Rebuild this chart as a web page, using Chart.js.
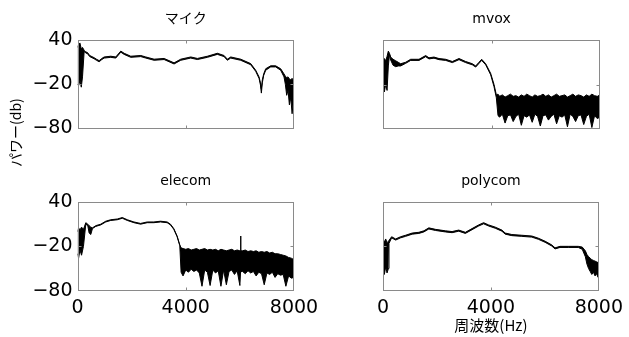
<!DOCTYPE html>
<html>
<head>
<meta charset="utf-8">
<script src="https://cdn.jsdelivr.net/npm/chart.js@4.4.1/dist/chart.umd.min.js"></script>
<style>
  body { margin: 0; background: #fff; }
  #wrap { position: relative; width: 629px; height: 337px; overflow: hidden; }
  canvas { position: absolute; }
  #ylabel {
    position: absolute; left: 5px; top: 167px; line-height: 20px;
    transform-origin: 0 0; transform: rotate(-90deg);
    font-family: "Noto Sans CJK JP"; font-size: 14px; color: #000; white-space: nowrap;
  }
</style>
</head>
<body>
<div id="wrap">
  <canvas id="mic" width="330" height="160" style="left:0;top:0"></canvas>
  <canvas id="mvox" width="299" height="160" style="left:330px;top:0"></canvas>
  <canvas id="elecom" width="330" height="177" style="left:0;top:160px"></canvas>
  <canvas id="polycom" width="299" height="177" style="left:330px;top:160px"></canvas>
  <div id="ylabel">パワー(db)</div>
</div>
<script>
const xTicks = [0, 4000, 8000];
const yTicks = [40, -20, -80];

// マイク  (hi / lo = upper and lower edge of the trace, dB)
const micHz = [0, 40, 90, 140, 185, 246, 300, 369, 450, 615, 700, 800, 900, 985, 1231, 1415, 1600, 1723, 1969, 2338, 2523, 2831, 3200, 3569, 3815, 4185, 4431, 4800, 5169, 5415, 5538, 5662, 6031, 6400, 6585, 6708, 6760, 6794, 6830, 6880, 6954, 7138, 7323, 7508, 7631, 7680, 7730, 7780, 7830, 7880, 7930, 7970, 8000];
const micHi = [30, 34, 36, 28, 30, 26, 24, 23, 19, 16, 14, 12, 15, 17, 18, 17, 25, 22, 18, 19, 17, 14, 15, 9, 14, 17, 15, 18, 22, 19, 14, 17, 14, 8, -1, -10, -18, -26, -14, -6, 1, 5, 5, 1, -6, -9, -11, -10, -13, -14, -12, -15, -18];
const micLo = [-20, -22, -15, -24, -10, 24.5, 22.5, 21.5, 17.5, 14.5, 12.5, 10.5, 13.5, 15.5, 16.5, 15.5, 23.5, 20.5, 16.5, 17.5, 15.5, 12.5, 13.5, 7.5, 12.5, 15.5, 13.5, 16.5, 20.5, 17.5, 12.5, 15.5, 12.5, 6.5, -2.5, -12, -21, -32, -18, -8, -1, 3.5, 3.5, -1, -10, -20, -35, -28, -48, -38, -60, -45, -42];

// mvox
const mvoxHz = [0, 50, 100, 150, 197, 240, 283, 370, 467, 560, 651, 836, 1020, 1327, 1573, 1696, 1880, 2065, 2311, 2556, 2802, 3048, 3294, 3417, 3540, 3638, 3786, 3970, 4093, 4179, 4240,
    4300, 4400, 4500, 4600, 4700, 4800, 4900, 5000, 5100, 5200, 5300, 5400, 5500, 5600, 5700, 5800, 5900, 6000, 6100, 6200,
    6300, 6400, 6500, 6600, 6700, 6800, 6900, 7000, 7100, 7200, 7300, 7400, 7500, 7600, 7700, 7800, 7900, 8000];
const mvoxHi = [10, 15, 12, 18, 25, 22, 17, 14, 12, 10, 8, 10, 14, 14, 19, 16, 17, 15, 14, 11, 15, 11, 8, 5, 10, 14, 8, -5, -20, -34, -33,
    -36, -34, -37, -35, -33, -36, -35, -37, -34, -36, -33, -35, -37, -34, -36, -35, -33, -36, -34, -37,
    -35, -33, -36, -35, -34, -37, -35, -33, -36, -34, -35, -37, -34, -36, -33, -35, -36, -34];
const mvoxLo = [-25, -30, -20, -28, 5, 20.5, 13, 6, 4, 5, 5, 8.5, 12.5, 12.5, 17.5, 14.5, 15.5, 13.5, 12.5, 9.5, 13.5, 9.5, 6.5, 3.5, 8.5, 12.5, 6.5, -7, -23, -38, -62,
    -64, -60, -72, -62, -61, -70, -63, -60, -75, -62, -64, -61, -71, -60, -63, -76, -62, -61, -68, -63,
    -60, -73, -62, -64, -61, -77, -60, -63, -70, -62, -61, -74, -63, -60, -78, -62, -66, -64];

// elecom
const elecomHz = [0, 40, 90, 150, 220, 307, 380, 430, 491, 552, 675, 859, 1043, 1227, 1472, 1656, 1841, 2086, 2331, 2577, 2822, 3068, 3313, 3436, 3558, 3681, 3779, 3828,
    3900, 4000, 4100, 4200, 4300, 4400, 4500, 4600, 4700, 4800, 4900, 5000, 5100, 5200, 5300, 5400, 5500, 5600, 5700, 5800, 5900, 6000,
    6025, 6030, 6035, 6100, 6200, 6300, 6400, 6500, 6600, 6700, 6800, 6900, 7000, 7100, 7200, 7300, 7400, 7500, 7600, 7700, 7800, 7900, 8000];
const elecomHi = [0, 5, 2, 6, 3, 12, 10, 8, 6, 5, 8, 10, 14, 16, 17, 19, 16, 13, 11, 13, 13, 14, 13, 10, 4, -6, -18, -22,
    -23, -24, -23, -25, -24, -23, -25, -24, -23, -25, -24, -25, -24, -26, -24, -25, -26, -25, -24, -26, -25, -26,
    -26, -6, -26, -26, -25, -27, -26, -27, -26, -28, -27, -28, -27, -29, -28, -30, -30, -31, -32, -33, -35, -36, -38];
const elecomLo = [-30, -36, -25, -32, -20, 10, 8, -2, -4, 4, 7, 9, 13, 15, 16, 18, 15, 12, 10, 12, 12, 13, 12, 9, 3, -7, -19, -55,
    -60, -52, -55, -51, -54, -52, -56, -74, -52, -55, -73, -52, -56, -53, -74, -52, -72, -54, -52, -58, -53, -73,
    -54, -55, -54, -54, -57, -53, -56, -54, -60, -55, -57, -72, -56, -58, -55, -62, -57, -59, -58, -74, -60, -63, -62];

// polycom
const polyHz = [0, 50, 100, 150, 200, 222, 320, 468, 652, 837, 1083, 1329, 1514, 1699, 1945, 2314, 2560, 2807, 3053, 3299, 3545, 3730, 3915, 4161, 4407, 4530, 4776, 5146, 5515, 5761, 6007, 6253, 6377, 6561, 6869, 7238, 7386, 7500, 7560, 7620, 7680, 7740, 7800, 7860, 7920, 7970, 8000];
const polyHi = [-12, -14, -10, -15, -13, -12, -7, -10, -7, -5, -2, -1, 1, 5, 3, 1, 0, 2, -1, 4, 9, 12, 9, 6, 2, -2, -4, -5, -6, -9, -13, -18, -22, -20, -20, -20, -21, -26, -31, -34, -36, -38, -39, -40, -41, -42, -41];
const polyLo = [-45, -58, -48, -56, -50, -16, -8.5, -11.5, -8.5, -6.5, -3.5, -2.5, -0.5, 3.5, 1.5, -0.5, -1.5, 0.5, -2.5, 2.5, 7.5, 10.5, 7.5, 4.5, 0.5, -3.5, -5.5, -6.5, -7.5, -10.5, -14.5, -19.5, -23.5, -21.5, -21.5, -21.5, -24, -34, -44, -50, -54, -58, -55, -60, -57, -62, -60];

const tickFont = { family: 'DejaVu Sans', size: 19 };
const titleFont = { family: "'DejaVu Sans', 'Noto Sans CJK JP'", size: 14, weight: 'normal' };

// gray frame round the plot area plus the small inward tick marks
const boxPlugin = {
    id: 'box',
    afterDraw(chart) {
        const { ctx, chartArea: a, scales } = chart;
        const l = Math.round(a.left) + 0.5, t = Math.round(a.top) + 0.5;
        const r = Math.round(a.right) - 0.5, b = Math.round(a.bottom) - 0.5;
        ctx.save();
        ctx.strokeStyle = '#8a8a8a';
        ctx.lineWidth = 1;
        ctx.strokeRect(l, t, r - l, b - t);
        ctx.beginPath();
        const mx = Math.round(scales.x.getPixelForValue(xTicks[1])) + 0.5;
        ctx.moveTo(mx, t); ctx.lineTo(mx, t + 3);
        ctx.moveTo(mx, b); ctx.lineTo(mx, b - 3);
        const my = Math.round(scales.y.getPixelForValue(yTicks[1])) + 0.5;
        ctx.moveTo(l, my); ctx.lineTo(l + 3, my);
        ctx.moveTo(r, my); ctx.lineTo(r - 3, my);
        ctx.stroke();
        ctx.restore();
    }
};

function minus(v) {
    return v < 0 ? '\u2212' + Math.abs(v) : String(v);
}

function makeChart(id, title, hz, hi, lo, cfg) {
    const points = arr => hz.map((f, i) => ({ x: f, y: arr[i] }));
    return new Chart(document.getElementById(id), {
        type: 'line',
        data: {
            datasets: [
                { data: points(hi), borderColor: '#000', borderWidth: 1, pointRadius: 0, tension: 0, fill: '+1', backgroundColor: '#000' },
                { data: points(lo), borderColor: '#000', borderWidth: 1, pointRadius: 0, tension: 0, fill: false }
            ]
        },
        options: {
            responsive: false,
            animation: false,
            events: [],
            layout: { padding: { top: 0, left: 0, right: cfg.right, bottom: 0 } },
            plugins: {
                legend: { display: false },
                tooltip: { enabled: false },
                title: {
                    display: true, text: title, fullSize: false, color: '#000', font: titleFont,
                    padding: { top: cfg.tTop, bottom: cfg.tBottom }
                }
            },
            scales: {
                x: {
                    type: 'linear', min: 0, max: 8000,
                    grid: { display: false, drawTicks: false }, border: { display: false },
                    ticks: { display: cfg.xLabels, autoSkip: false, maxRotation: 0, font: tickFont, color: '#000', padding: 6, callback: v => String(v) },
                    afterBuildTicks: s => { s.ticks = xTicks.map(v => ({ value: v })); },
                    afterFit: s => { s.height = cfg.xH; },
                    title: {
                        display: !!cfg.xTitle, text: cfg.xTitle || '', color: '#000',
                        font: { family: "'Noto Sans CJK JP'", size: 15 }, padding: { top: 0, bottom: 3 }
                    }
                },
                y: {
                    type: 'linear', min: -80, max: 40,
                    grid: { display: false, drawTicks: false }, border: { display: false },
                    ticks: { display: cfg.yLabels, autoSkip: false, font: tickFont, color: '#000', padding: 5, callback: minus },
                    afterBuildTicks: s => { s.ticks = yTicks.map(v => ({ value: v })); },
                    afterFit: s => { s.width = cfg.yW; }
                }
            }
        },
        plugins: [boxPlugin]
    });
}

// title box is 16.8px of text; top/bottom padding puts the title centre ~21px above the frame
makeChart('mic', 'マイク', micHz, micHi, micLo,
    { right: 36, yW: 77.5, xH: 31.5, tTop: 10.6, tBottom: 12.6, xLabels: false, yLabels: true });
makeChart('mvox', 'mvox', mvoxHz, mvoxHi, mvoxLo,
    { right: 29, yW: 53, xH: 31, tTop: 10.6, tBottom: 12.6, xLabels: false, yLabels: false });
makeChart('elecom', 'elecom', elecomHz, elecomHi, elecomLo,
    { right: 36, yW: 77.5, xH: 46.3, tTop: 12.6, tBottom: 12.6, xLabels: true, yLabels: true });
makeChart('polycom', 'polycom', polyHz, polyHi, polyLo,
    { right: 29, yW: 53, xH: 46.3, tTop: 12.6, tBottom: 12.6, xLabels: true, yLabels: false, xTitle: '周波数(Hz)' });
</script>
</body>
</html>
